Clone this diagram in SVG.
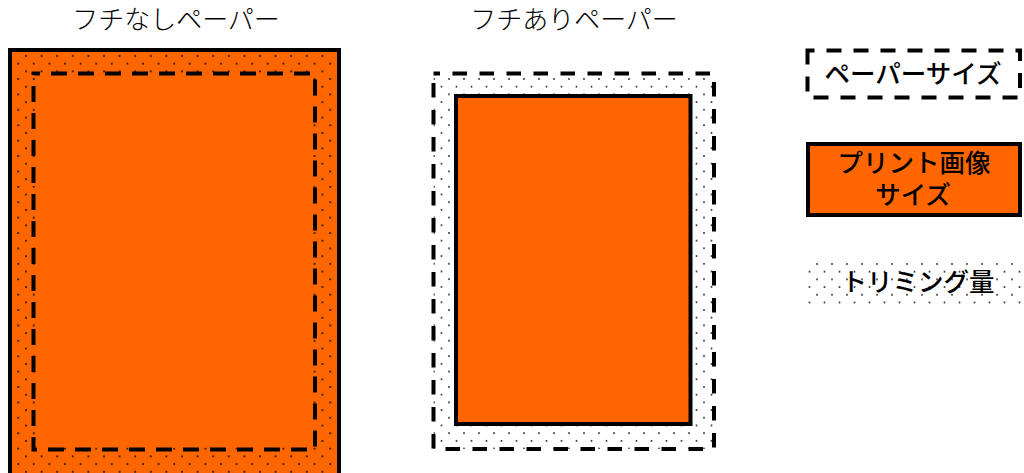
<svg xmlns="http://www.w3.org/2000/svg" width="1024" height="473" viewBox="0 0 1024 473">
  <style>
    .title { font-family: "Liberation Serif", "Noto Sans CJK JP", serif; font-size: 26px; font-weight: 300; fill: #000; text-anchor: middle; }
    .legend { font-family: "Liberation Serif", "Noto Sans CJK JP", serif; font-size: 25.5px; font-weight: 500; fill: #000; text-anchor: middle; }
    .solid { fill: #FF6600; stroke: #000; stroke-width: 4; }
    .dash { fill: none; stroke: #000; stroke-width: 4; }
  </style>
  <defs>
    <pattern id="dotsL" patternUnits="userSpaceOnUse" x="25" y="55" width="15.6" height="15.4">
      <circle cx="1" cy="1" r="1" fill="#111"/>
      <circle cx="8.8" cy="8.7" r="1" fill="#111"/>
    </pattern>
    <pattern id="dotsR" patternUnits="userSpaceOnUse" x="448" y="78" width="15" height="15.4">
      <circle cx="1" cy="1" r="1" fill="#333"/>
      <circle cx="8.5" cy="8.7" r="1" fill="#333"/>
    </pattern>
    <pattern id="dotsLeg" patternUnits="userSpaceOnUse" x="816" y="263" width="15" height="15.4">
      <circle cx="1" cy="1" r="1" fill="#333"/>
      <circle cx="8.5" cy="8.7" r="1" fill="#333"/>
    </pattern>
  </defs>
  <rect width="1024" height="473" fill="#fff"/>

  <g id="borderless-title">
    <text class="title" x="176" y="29">フチなしペーパー</text>
  </g>
  <g id="bordered-title">
    <text class="title" x="574" y="29">フチありペーパー</text>
  </g>

  <g id="borderless-paper">
    <rect class="solid" x="10" y="50" width="329" height="430"/>
    <rect x="12" y="52" width="325" height="426" fill="url(#dotsL)"/>
    <rect x="35.5" y="75.5" width="277.5" height="372" fill="#FF6600"/>
    <rect class="dash" x="33.5" y="73.5" width="281.5" height="376" stroke-dasharray="16 11" stroke-dashoffset="9.5"/>
  </g>

  <g id="bordered-paper">
    <rect x="433.5" y="73.5" width="280.5" height="375.5" fill="url(#dotsR)"/>
    <rect class="dash" x="433.5" y="73.5" width="280.5" height="375.5" stroke-dasharray="14.5 12.5" stroke-dashoffset="8"/>
    <rect class="solid" x="456" y="96" width="234.5" height="328"/>
  </g>

  <g id="legend-paper">
    <rect class="dash" x="807.5" y="50.5" width="212.5" height="47" stroke-dasharray="15 12" stroke-dashoffset="8"/>
    <text class="legend" x="913" y="83" font-weight="400">ペーパーサイズ</text>
  </g>

  <g id="legend-print">
    <rect class="solid" x="808" y="144" width="212" height="71"/>
    <text class="legend" x="914" y="172">プリント画像</text>
    <text class="legend" x="913" y="204">サイズ</text>
  </g>

  <g id="legend-trim">
    <rect x="808" y="261" width="213" height="43" fill="url(#dotsLeg)"/>
    <text class="legend" x="918" y="291">トリミング量</text>
  </g>

  <g id="connectors"></g>
</svg>
